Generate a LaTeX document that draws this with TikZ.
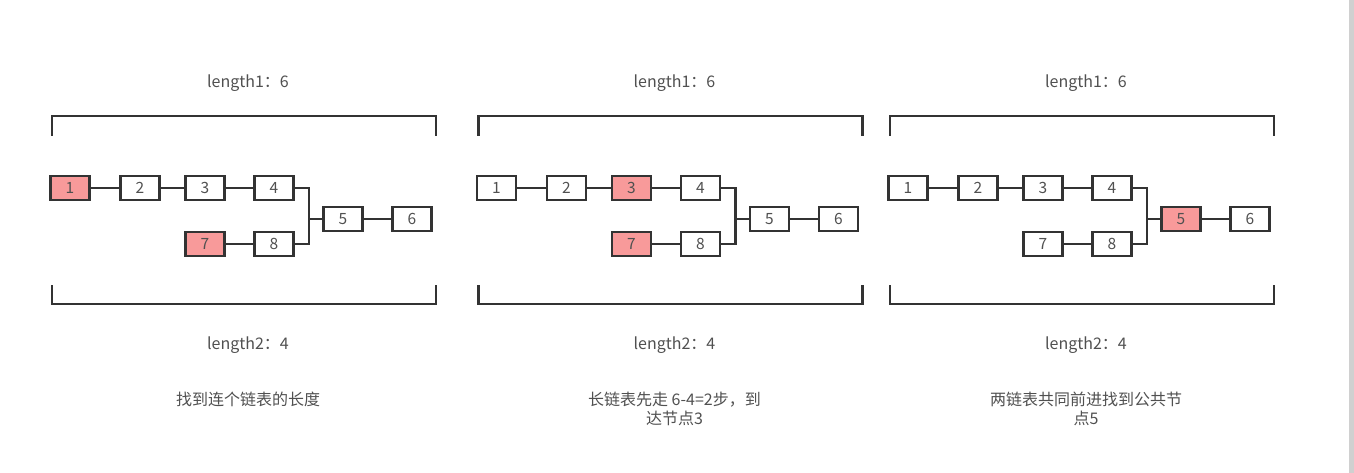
\documentclass[tikz,border=0pt]{standalone}
\usepackage{fontspec}
\setmainfont{Noto Sans CJK SC}
\usepackage{xcolor}
\usepackage{tikz}

\definecolor{boxline}{HTML}{333333}
\definecolor{hitred}{HTML}{F89A9A}
\definecolor{txtgray}{HTML}{505050}
\definecolor{edgegray}{HTML}{D0D0D0}

\begin{document}
\begin{tikzpicture}[x=1pt,y=-1pt,
  box/.style={draw=boxline,line width=2.2pt,fill=white,minimum width=39pt,minimum height=24pt,
    inner sep=0pt,text=txtgray,font=\fontsize{15.5}{18}\selectfont},
  hit/.style={fill=hitred},
  n1/.style={},n2/.style={},n3/.style={},n4/.style={},
  n5/.style={},n6/.style={},n7/.style={},n8/.style={},
  link/.style={draw=boxline,line width=2.2pt},
  bracket/.style={draw=boxline,line width=2.2pt},
  note/.style={text=txtgray,font=\fontsize{16}{19}\selectfont,align=center,anchor=base}]

\useasboundingbox (0,0) rectangle (1354,473);
\fill[edgegray] (1349,0) rectangle (1354,473);

% first: measure both lists
\begin{scope}[n1/.style={hit},n7/.style={hit}]
\foreach \i/\x/\y in {1/70/188,2/140/188,3/205/188,4/274/188,5/343/219,6/412/219,7/205/244,8/274/244}
  \node[box,n\i] (a\i) at (\x,\y) {\i};
\coordinate (aj) at (309,219);
\draw[link] (a1) -- (a2) -- (a3) -- (a4);
\draw[link] (a4) -| (aj) -- (a5) -- (a6);
\draw[link] (a7) -- (a8) -| (aj);
\draw[bracket] (52,136) |- (436,116) -- (436,136);
\draw[bracket] (52,285) |- (436,304) -- (436,285);
\node[note] (alen1) at (248,88) {length1：6};
\node[note] (alen2) at (248,349) {length2：4};
\node[note] (acap) at (248,405) {找到连个链表的长度};
\end{scope}

% second: long list goes ahead
\begin{scope}[xshift=426.5pt,n3/.style={hit},n7/.style={hit}]
\foreach \i/\x/\y in {1/70/188,2/140/188,3/205/188,4/274/188,5/343/219,6/412/219,7/205/244,8/274/244}
  \node[box,n\i] (b\i) at (\x,\y) {\i};
\coordinate (bj) at (309,219);
\draw[link] (b1) -- (b2) -- (b3) -- (b4);
\draw[link] (b4) -| (bj) -- (b5) -- (b6);
\draw[link] (b7) -- (b8) -| (bj);
\draw[bracket] (52,136) |- (436,116) -- (436,136);
\draw[bracket] (52,285) |- (436,304) -- (436,285);
\node[note] (blen1) at (248,88) {length1：6};
\node[note] (blen2) at (248,349) {length2：4};
\node[note] (bcap) at (248,424) {长链表先走 6-4=2步，到\\达节点3};
\end{scope}

% third: walk together to the shared node
\begin{scope}[xshift=838pt,n5/.style={hit}]
\foreach \i/\x/\y in {1/70/188,2/140/188,3/205/188,4/274/188,5/343/219,6/412/219,7/205/244,8/274/244}
  \node[box,n\i] (c\i) at (\x,\y) {\i};
\coordinate (cj) at (309,219);
\draw[link] (c1) -- (c2) -- (c3) -- (c4);
\draw[link] (c4) -| (cj) -- (c5) -- (c6);
\draw[link] (c7) -- (c8) -| (cj);
\draw[bracket] (52,136) |- (436,116) -- (436,136);
\draw[bracket] (52,285) |- (436,304) -- (436,285);
\node[note] (clen1) at (248,88) {length1：6};
\node[note] (clen2) at (248,349) {length2：4};
\node[note] (ccap) at (248,424) {两链表共同前进找到公共节\\点5};
\end{scope}

\end{tikzpicture}
\end{document}
